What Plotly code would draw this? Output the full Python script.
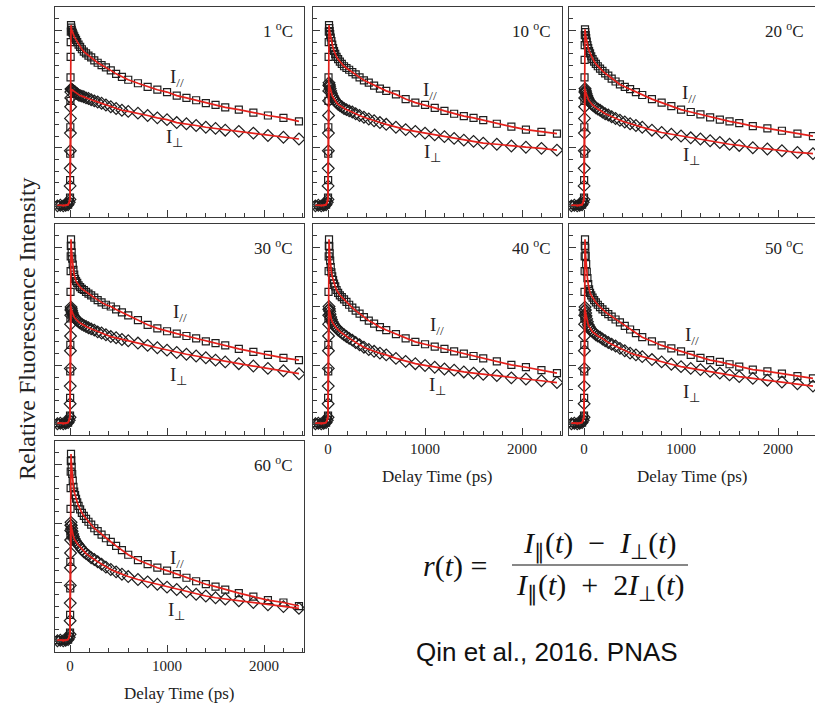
import plotly.graph_objects as go

# ---------------- data ----------------
t_ps = [-130, -100, -70, -45, -20, -8,
        0, 1, 2, 3, 4, 5, 6, 7, 8,
        10, 13, 17, 22, 28, 35, 43, 52, 62, 74, 88, 104, 122, 142, 165, 190, 218, 250, 285, 325,
        370, 420, 475, 535, 600,
        700, 800, 900, 1000, 1100, 1200, 1300, 1400, 1500, 1600, 1740, 1890, 2040, 2200, 2360]

temperatures = ["1", "10", "20", "30", "40", "50", "60"]

par_01 = [0.02, 0.02, 0.01, 0.02, 0.03, 0.08,
          0.15, 0.45, 0.90, 1.35, 1.80, 2.20, 2.55, 2.80, 2.98,
          3.09, 3.05, 3.01, 2.98, 2.96, 2.93, 2.90, 2.87, 2.84, 2.80, 2.76, 2.72, 2.68, 2.64, 2.61,
          2.57, 2.54, 2.49, 2.45, 2.41, 2.37, 2.32, 2.26, 2.21, 2.16,
          2.10, 2.04, 1.99, 1.95, 1.89, 1.85, 1.81, 1.76, 1.73, 1.69, 1.65, 1.60, 1.55, 1.51, 1.45]
perp_01 = [0.01, 0.02, 0.01, 0.02, 0.03, 0.07,
           0.12, 0.35, 0.65, 0.95, 1.25, 1.50, 1.70, 1.85, 1.95,
           2.00, 2.00, 1.99, 1.99, 1.98, 1.97, 1.96, 1.95, 1.93, 1.92, 1.90, 1.89, 1.88, 1.87, 1.85,
           1.84, 1.82, 1.80, 1.78, 1.76, 1.73, 1.70, 1.67, 1.64, 1.62,
           1.59, 1.55, 1.51, 1.48, 1.43, 1.41, 1.38, 1.35, 1.33, 1.30, 1.28, 1.25, 1.21, 1.18, 1.15]

par_10 = [0.02, 0.02, 0.01, 0.02, 0.03, 0.08,
          0.15, 0.45, 0.90, 1.35, 1.80, 2.20, 2.55, 2.80, 2.98,
          3.09, 3.04, 2.99, 2.94, 2.88, 2.82, 2.76, 2.70, 2.65, 2.60, 2.55, 2.51, 2.47, 2.43, 2.39,
          2.36, 2.33, 2.29, 2.25, 2.20, 2.15, 2.11, 2.06, 2.01, 1.97,
          1.91, 1.83, 1.77, 1.73, 1.68, 1.63, 1.58, 1.54, 1.51, 1.47, 1.41, 1.36, 1.31, 1.27, 1.24]
perp_10 = [0.01, 0.02, 0.01, 0.02, 0.03, 0.07,
           0.12, 0.35, 0.65, 0.95, 1.25, 1.55, 1.80, 1.97, 2.06,
           2.11, 2.08, 2.05, 2.01, 1.97, 1.93, 1.89, 1.86, 1.83, 1.80, 1.77, 1.74, 1.72, 1.70, 1.67,
           1.65, 1.63, 1.61, 1.58, 1.55, 1.52, 1.49, 1.46, 1.43, 1.40,
           1.35, 1.31, 1.28, 1.25, 1.22, 1.19, 1.16, 1.13, 1.11, 1.08, 1.06, 1.03, 1.01, 0.99, 0.96]

par_20 = [0.02, 0.02, 0.01, 0.02, 0.03, 0.08,
          0.15, 0.45, 0.90, 1.35, 1.80, 2.20, 2.50, 2.75, 2.92,
          3.02, 2.97, 2.92, 2.87, 2.81, 2.75, 2.70, 2.65, 2.61, 2.56, 2.51, 2.47, 2.43, 2.39, 2.35,
          2.31, 2.27, 2.23, 2.18, 2.13, 2.08, 2.04, 2.00, 1.95, 1.90,
          1.83, 1.77, 1.71, 1.65, 1.61, 1.57, 1.52, 1.48, 1.45, 1.42, 1.37, 1.33, 1.29, 1.24, 1.20]
perp_20 = [0.01, 0.02, 0.01, 0.02, 0.03, 0.07,
           0.12, 0.35, 0.65, 0.95, 1.25, 1.50, 1.70, 1.85, 1.95,
           2.01, 1.98, 1.95, 1.92, 1.89, 1.86, 1.83, 1.80, 1.78, 1.75, 1.73, 1.71, 1.68, 1.66, 1.64,
           1.61, 1.58, 1.56, 1.53, 1.50, 1.47, 1.44, 1.41, 1.38, 1.35,
           1.30, 1.26, 1.23, 1.20, 1.17, 1.15, 1.12, 1.09, 1.06, 1.04, 1.00, 0.98, 0.95, 0.92, 0.90]

par_30 = [0.02, 0.02, 0.01, 0.02, 0.03, 0.08,
          0.15, 0.45, 0.90, 1.35, 1.80, 2.25, 2.60, 2.85, 3.03,
          3.14, 3.03, 2.92, 2.81, 2.71, 2.62, 2.54, 2.47, 2.43, 2.40, 2.36, 2.33, 2.30, 2.28, 2.25,
          2.22, 2.19, 2.15, 2.11, 2.07, 2.03, 2.00, 1.95, 1.90, 1.85,
          1.77, 1.69, 1.63, 1.58, 1.54, 1.50, 1.46, 1.41, 1.38, 1.34, 1.28, 1.23, 1.18, 1.13, 1.09]
perp_30 = [0.01, 0.02, 0.01, 0.02, 0.03, 0.07,
           0.12, 0.35, 0.65, 0.95, 1.25, 1.50, 1.70, 1.85, 1.94,
           1.99, 1.96, 1.93, 1.90, 1.87, 1.84, 1.82, 1.80, 1.78, 1.76, 1.74, 1.72, 1.70, 1.68, 1.66,
           1.64, 1.62, 1.60, 1.57, 1.55, 1.52, 1.49, 1.47, 1.44, 1.42,
           1.38, 1.34, 1.30, 1.26, 1.22, 1.19, 1.16, 1.13, 1.09, 1.06, 1.03, 0.99, 0.95, 0.91, 0.86]

par_40 = [0.02, 0.02, 0.01, 0.02, 0.03, 0.08,
          0.15, 0.45, 0.90, 1.35, 1.80, 2.25, 2.60, 2.85, 3.03,
          3.14, 3.02, 2.90, 2.78, 2.67, 2.58, 2.51, 2.45, 2.39, 2.34, 2.28, 2.23, 2.19, 2.16, 2.12,
          2.08, 2.03, 1.98, 1.93, 1.88, 1.82, 1.76, 1.71, 1.65, 1.60,
          1.53, 1.46, 1.40, 1.36, 1.32, 1.28, 1.24, 1.20, 1.16, 1.12, 1.07, 1.01, 0.97, 0.92, 0.87]
perp_40 = [0.01, 0.02, 0.01, 0.02, 0.03, 0.07,
           0.12, 0.35, 0.65, 0.95, 1.25, 1.50, 1.70, 1.85, 1.95,
           2.00, 1.96, 1.92, 1.87, 1.82, 1.78, 1.74, 1.71, 1.68, 1.66, 1.63, 1.60, 1.58, 1.55, 1.52,
           1.49, 1.46, 1.43, 1.39, 1.35, 1.31, 1.27, 1.24, 1.21, 1.18,
           1.12, 1.07, 1.03, 1.00, 0.97, 0.94, 0.92, 0.89, 0.87, 0.85, 0.83, 0.79, 0.77, 0.74, 0.71]

par_50 = [0.02, 0.02, 0.01, 0.02, 0.03, 0.08,
          0.15, 0.45, 0.90, 1.35, 1.80, 2.25, 2.60, 2.85, 3.03,
          3.14, 3.00, 2.86, 2.72, 2.59, 2.48, 2.38, 2.29, 2.23, 2.19, 2.15, 2.11, 2.07, 2.03, 1.99,
          1.95, 1.91, 1.87, 1.83, 1.78, 1.73, 1.67, 1.61, 1.55, 1.48,
          1.41, 1.34, 1.29, 1.24, 1.18, 1.13, 1.09, 1.06, 1.02, 0.98, 0.93, 0.90, 0.86, 0.82, 0.78]
perp_50 = [0.01, 0.02, 0.01, 0.02, 0.03, 0.07,
           0.12, 0.35, 0.65, 0.95, 1.25, 1.50, 1.70, 1.85, 1.94,
           1.99, 1.94, 1.89, 1.84, 1.79, 1.74, 1.69, 1.66, 1.63, 1.60, 1.57, 1.55, 1.52, 1.50, 1.48,
           1.45, 1.42, 1.39, 1.36, 1.33, 1.29, 1.25, 1.21, 1.18, 1.15,
           1.10, 1.06, 1.02, 0.98, 0.95, 0.93, 0.90, 0.87, 0.84, 0.81, 0.78, 0.75, 0.72, 0.69, 0.65]

par_60 = [0.02, 0.02, 0.01, 0.02, 0.03, 0.08,
          0.15, 0.45, 0.90, 1.35, 1.80, 2.25, 2.60, 2.88, 3.06,
          3.18, 3.07, 2.96, 2.84, 2.73, 2.62, 2.54, 2.48, 2.42, 2.36, 2.30, 2.24, 2.18, 2.13, 2.08,
          2.03, 1.98, 1.92, 1.87, 1.81, 1.75, 1.69, 1.62, 1.55, 1.47,
          1.38, 1.31, 1.25, 1.20, 1.14, 1.08, 1.02, 0.97, 0.93, 0.88, 0.82, 0.76, 0.70, 0.66, 0.60]
perp_60 = [0.01, 0.02, 0.01, 0.02, 0.03, 0.07,
           0.12, 0.35, 0.65, 0.95, 1.25, 1.50, 1.72, 1.88, 1.97,
           2.02, 1.97, 1.92, 1.87, 1.82, 1.78, 1.74, 1.71, 1.68, 1.66, 1.63, 1.60, 1.56, 1.52, 1.49,
           1.46, 1.42, 1.39, 1.35, 1.31, 1.26, 1.22, 1.18, 1.14, 1.10,
           1.05, 1.01, 0.97, 0.92, 0.88, 0.84, 0.80, 0.77, 0.74, 0.72, 0.69, 0.66, 0.62, 0.59, 0.56]

I_parallel = [par_01, par_10, par_20, par_30, par_40, par_50, par_60]
I_perpendicular = [perp_01, perp_10, perp_20, perp_30, perp_40, perp_50, perp_60]

x_tick_vals = [0, 1000, 2000]
x_tick_text = ["0", "1000", "2000"]

# ---------------- layout geometry (pixels) ----------------
W, H = 815, 704
boxes = [(55, 7, 304, 217), (313, 7, 562, 217), (569, 7, 815, 217),
         (55, 224, 304, 435), (313, 224, 562, 435), (569, 224, 815, 435),
         (55, 441, 304, 652)]
x_ranges = [[-155, 2412], [-155, 2412], [-155, 2381],
            [-155, 2412], [-155, 2412], [-155, 2381],
            [-155, 2412]]
y_range = [-0.18, 3.40]
with_xlabels = [False, False, False, False, True, True, True]
par_label_pos = [(1103, 2.19), (1052, 1.97), (1082, 1.91), (1134, 1.89), (1128, 1.67), (1110, 1.50), (1100, 1.39)]
perp_label_pos = [(1080, 1.17), (1082, 0.91), (1103, 0.86), (1113, 0.82), (1128, 0.65), (1110, 0.53), (1100, 0.52)]

SERIF = "Liberation Serif, Times New Roman, serif"
RED = "#e3201b"
FRAME = "#3a3a3a"
MK = "#1e1e1e"

fig = go.Figure()
annotations = []
shapes = []
layout_axes = {}

for i in range(7):
    n = i + 1
    xa = "x" if n == 1 else f"x{n}"
    ya = "y" if n == 1 else f"y{n}"
    L, T, R, B = boxes[i]
    xdom = [L / W, R / W]
    ydom = [1 - B / H, 1 - T / H]

    fig.add_trace(go.Scatter(x=t_ps, y=I_parallel[i], mode="markers", xaxis=xa, yaxis=ya,
                             marker=dict(symbol="square-open", size=7, color=MK, line=dict(width=1.2, color=MK)),
                             showlegend=False, hoverinfo="skip"))
    fig.add_trace(go.Scatter(x=t_ps, y=I_perpendicular[i], mode="markers", xaxis=xa, yaxis=ya,
                             marker=dict(symbol="diamond-open", size=9, color=MK, line=dict(width=1.2, color=MK)),
                             showlegend=False, hoverinfo="skip"))
    fig.add_trace(go.Scatter(x=t_ps, y=I_parallel[i], mode="lines", xaxis=xa, yaxis=ya,
                             line=dict(color=RED, width=1.7), showlegend=False, hoverinfo="skip"))
    fig.add_trace(go.Scatter(x=t_ps, y=I_perpendicular[i], mode="lines", xaxis=xa, yaxis=ya,
                             line=dict(color=RED, width=1.7), showlegend=False, hoverinfo="skip"))

    kx = "xaxis" if n == 1 else f"xaxis{n}"
    ky = "yaxis" if n == 1 else f"yaxis{n}"
    layout_axes[kx] = dict(domain=xdom, range=x_ranges[i], anchor=ya, showgrid=False, zeroline=False,
                           showline=True, mirror=True, linecolor=FRAME, linewidth=1.4,
                           ticks="inside", ticklen=7, tickwidth=1.2, tickcolor=FRAME,
                           tickmode="array", tickvals=x_tick_vals, ticktext=x_tick_text,
                           showticklabels=with_xlabels[i],
                           tickfont=dict(family=SERIF, size=15, color="#222"),
                           minor=dict(dtick=200, tick0=0, ticks="inside", ticklen=4, tickwidth=1, tickcolor=FRAME),
                           fixedrange=True)
    layout_axes[ky] = dict(domain=ydom, range=y_range, anchor=xa, showgrid=False, zeroline=False,
                           showline=True, mirror=True, linecolor=FRAME, linewidth=1.4,
                           ticks="inside", ticklen=7, tickwidth=1.2, tickcolor=FRAME,
                           tick0=0, dtick=1, showticklabels=False,
                           minor=dict(dtick=0.2, tick0=0, ticks="inside", ticklen=4, tickwidth=1, tickcolor=FRAME),
                           fixedrange=True)

    annotations.append(dict(text=f"{temperatures[i]} <sup>o</sup>C", xref=f"{xa} domain", yref=f"{ya} domain",
                            x=0.962, y=0.89, xanchor="right", yanchor="middle", showarrow=False,
                            font=dict(family=SERIF, size=17, color="#222")))
    px_, py_ = par_label_pos[i]
    annotations.append(dict(text="I<sub>//</sub>", xref=xa, yref=ya, x=px_, y=py_, showarrow=False,
                            xanchor="center", yanchor="middle", font=dict(family=SERIF, size=19, color="#222")))
    qx_, qy_ = perp_label_pos[i]
    annotations.append(dict(text="I<sub>⊥</sub>", xref=xa, yref=ya, x=qx_, y=qy_, showarrow=False,
                            xanchor="center", yanchor="middle", font=dict(family=SERIF, size=19, color="#222")))
    if with_xlabels[i]:
        annotations.append(dict(text="Delay Time (ps)", xref="paper", yref="paper",
                                x=(L + R) / 2 / W, y=1 - (B + 41) / H, showarrow=False,
                                xanchor="center", yanchor="middle",
                                font=dict(family=SERIF, size=17, color="#222")))

annotations.append(dict(text="Relative Fluorescence Intensity", xref="paper", yref="paper",
                        x=27 / W, y=1 - 329 / H, textangle=-90, showarrow=False,
                        xanchor="center", yanchor="middle", font=dict(family=SERIF, size=24, color="#222")))

# equation r(t) = (I_par - I_perp) / (I_par + 2 I_perp)
EQF = dict(family=SERIF, size=30, color="#111")
annotations.append(dict(text="<i>r</i>(<i>t</i>) = ", xref="paper", yref="paper", x=459 / W, y=1 - 566 / H,
                        showarrow=False, xanchor="center", yanchor="middle", font=EQF))
annotations.append(dict(text="<i>I</i><sub>∥</sub>(<i>t</i>)  −  <i>I</i><sub>⊥</sub>(<i>t</i>)",
                        xref="paper", yref="paper", x=600 / W, y=1 - 545 / H,
                        showarrow=False, xanchor="center", yanchor="middle", font=EQF))
annotations.append(dict(text="<i>I</i><sub>∥</sub>(<i>t</i>)  +  2<i>I</i><sub>⊥</sub>(<i>t</i>)",
                        xref="paper", yref="paper", x=600 / W, y=1 - 587 / H,
                        showarrow=False, xanchor="center", yanchor="middle", font=EQF))
shapes.append(dict(type="line", xref="paper", yref="paper", x0=512 / W, x1=688 / W,
                   y0=1 - 565 / H, y1=1 - 565 / H, line=dict(color="#111", width=1.2)))

annotations.append(dict(text="Qin et al., 2016. PNAS", xref="paper", yref="paper", x=547 / W, y=1 - 652 / H,
                        showarrow=False, xanchor="center", yanchor="middle",
                        font=dict(family="Liberation Sans, Arial, sans-serif", size=26, color="#111")))

fig.update_layout(width=W, height=H, margin=dict(l=0, r=0, t=0, b=0),
                  paper_bgcolor="white", plot_bgcolor="white",
                  annotations=annotations, shapes=shapes, **layout_axes)

fig.write_html("out.html", config={"displayModeBar": False})
with open("out.html", "r", encoding="utf-8") as f:
    html = f.read()
html = html.replace("<head>", "<head><style>html,body{margin:0;padding:0;overflow:hidden;}</style>", 1)
with open("out.html", "w", encoding="utf-8") as f:
    f.write(html)
